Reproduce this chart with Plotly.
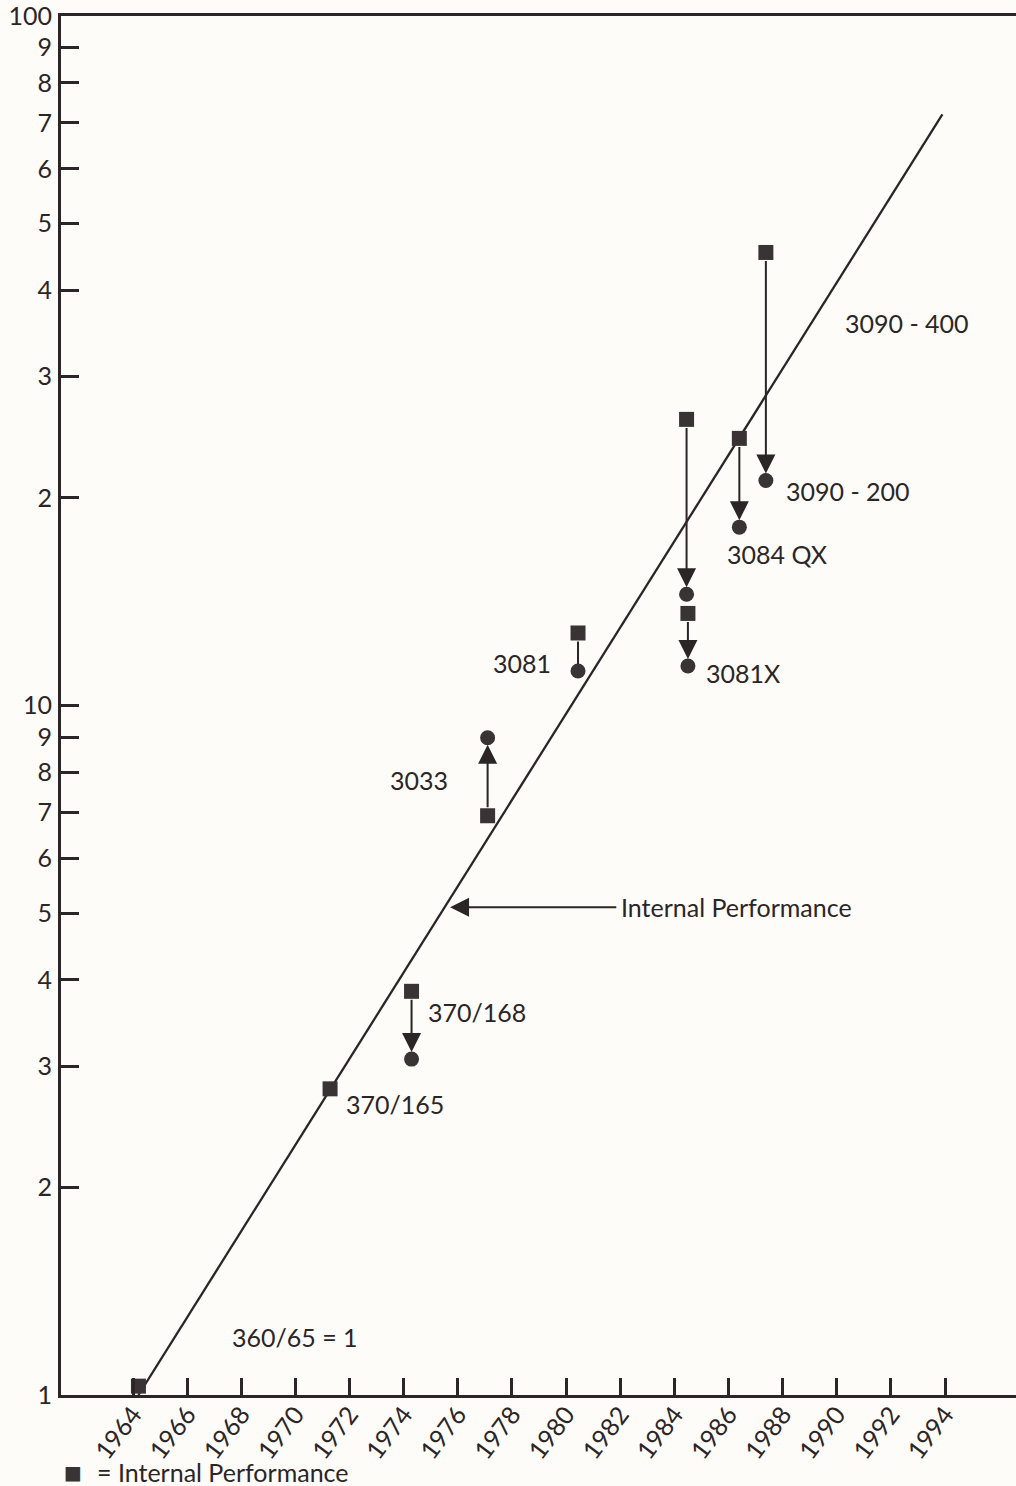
import math
import plotly.graph_objects as go

# ---------------- data ----------------
trend_years = [1964.2, 1993.9]
trend_values = [1.0, 72.0]

sq_years = [1964.2, 1971.28, 1974.29, 1977.10, 1980.44, 1984.45, 1984.50, 1986.40, 1987.38]
sq_values = [1.03, 2.78, 3.85, 6.92, 12.74, 26.0, 13.6, 24.4, 45.4]

# machines with both internal (square) and other (circle) figures
pair_years = [1974.29, 1977.10, 1980.44, 1984.45, 1984.50, 1986.40, 1987.38]
pair_from = [3.85, 6.92, 12.74, 26.0, 13.6, 24.4, 45.4]
pair_to = [3.07, 8.98, 11.22, 14.5, 11.41, 18.14, 21.2]
pair_head = [True, True, False, True, True, True, True]

labels = ["3090 - 400", "3090 - 200", "3084 QX", "3081X", "3081", "3033",
          "370/168", "370/165", "360/65 = 1"]
label_years = [1990.23, 1988.05, 1985.87, 1985.10, 1979.51, 1975.71, 1974.83, 1971.80, 1967.59]
label_values = [35.9, 20.5, 16.6, 11.16, 11.54, 7.79, 3.59, 2.64, 1.214]
label_anchor = ["left", "left", "left", "left", "right", "right", "left", "left", "left"]

callout_text = "Internal Performance"
callout_year = 1981.96
callout_target_year = 1975.64
callout_value = 5.10

x_ticks = list(range(1964, 1996, 2))
y_ticks = [1, 2, 3, 4, 5, 6, 7, 8, 9, 10, 20, 30, 40, 50, 60, 70, 80, 90, 100]
y_ticktext = ["1", "2", "3", "4", "5", "6", "7", "8", "9", "10",
              "2", "3", "4", "5", "6", "7", "8", "9", "100"]

legend_symbol = "■"
legend_text = "= Internal Performance"

# ---------------- style ----------------
INK = "#2b2527"
MARK = "#3a3335"
BG = "#fdfcf9"
FONT = "Lato, 'Open Sans', sans-serif"
LBL = dict(family=FONT, size=25, color=INK)

fig = go.Figure()

fig.add_trace(go.Scatter(x=trend_years, y=trend_values, mode="lines",
                         line=dict(color=INK, width=2.3), showlegend=False,
                         hoverinfo="skip"))

fig.add_trace(go.Scatter(x=sq_years, y=sq_values, mode="markers",
                         marker=dict(symbol="square", size=15, color=MARK),
                         showlegend=False, cliponaxis=False))

fig.add_trace(go.Scatter(x=pair_years, y=pair_to, mode="markers",
                         marker=dict(symbol="circle", size=15, color=MARK),
                         showlegend=False, cliponaxis=False))

annotations = []
for yr, a, b, h in zip(pair_years, pair_from, pair_to, pair_head):
    annotations.append(dict(
        x=yr, y=math.log10(b), ax=yr, ay=math.log10(a),
        xref="x", yref="y", axref="x", ayref="y",
        showarrow=True, text="",
        arrowhead=2 if h else 0, arrowsize=1.9, arrowwidth=2,
        arrowcolor=INK, standoff=7, startstandoff=7))

for t, yr, v, anc in zip(labels, label_years, label_values, label_anchor):
    annotations.append(dict(
        x=yr, y=math.log10(v), xref="x", yref="y", text=t,
        showarrow=False, xanchor=anc, yanchor="middle", font=LBL))

annotations.append(dict(
    x=callout_year, y=math.log10(callout_value), xref="x", yref="y",
    text=callout_text, showarrow=False, xanchor="left", yanchor="middle",
    font=LBL))
annotations.append(dict(
    x=callout_target_year, y=math.log10(callout_value),
    ax=callout_year - 0.05, ay=math.log10(callout_value),
    xref="x", yref="y", axref="x", ayref="y", text="",
    showarrow=True, arrowhead=2, arrowsize=1.9, arrowwidth=2,
    arrowcolor=INK, standoff=2))

annotations.append(dict(
    x=0.001, y=-0.0555, xref="paper", yref="paper", text=legend_symbol,
    showarrow=False, xanchor="left", yanchor="middle",
    font=dict(family="DejaVu Sans", size=19, color=MARK)))
annotations.append(dict(
    x=0.0356, y=-0.0555, xref="paper", yref="paper", text=legend_text,
    showarrow=False, xanchor="left", yanchor="middle", font=LBL))

fig.update_layout(
    width=1016, height=1486,
    margin=dict(l=61, r=0, t=16, b=91),
    paper_bgcolor=BG, plot_bgcolor=BG,
    annotations=annotations,
    xaxis=dict(range=[1961.34, 1996.62], tickvals=x_ticks,
               ticktext=[str(v) for v in x_ticks],
               ticks="inside", ticklen=17, tickwidth=2.5, tickcolor=INK,
               showline=True, linecolor=INK, linewidth=3, mirror=True,
               showgrid=False, zeroline=False, tickangle=-53,
               ticklabelstandoff=-8, ticklabeloverflow="allow",
               tickfont=dict(family=FONT, size=25, color=INK)),
    yaxis=dict(type="log", range=[0, 2], tickvals=y_ticks, ticktext=y_ticktext,
               ticks="inside", ticklen=18, tickwidth=2.5, tickcolor=INK,
               showline=True, linecolor=INK, linewidth=3,
               showgrid=False, zeroline=False, ticklabelstandoff=1,
               ticklabeloverflow="allow",
               tickfont=dict(family=FONT, size=25, color=INK)),
)

fig.write_html("out.html")
